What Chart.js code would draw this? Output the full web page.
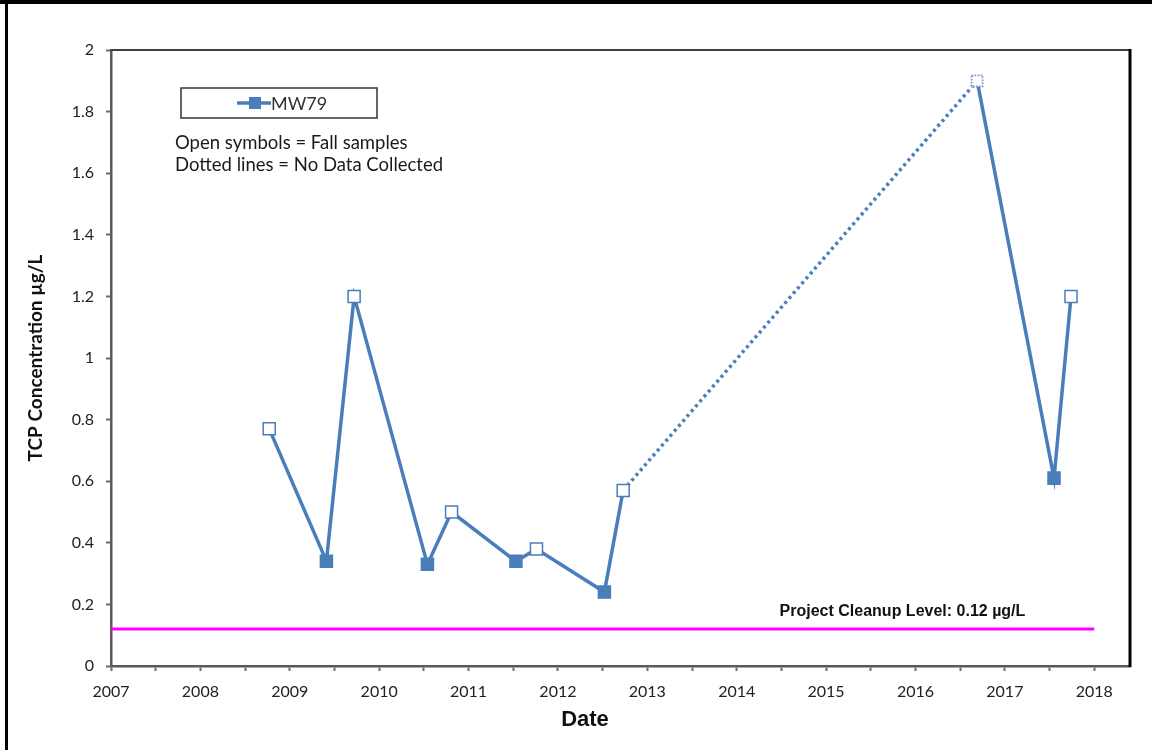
<!DOCTYPE html>
<html>
<head>
<meta charset="utf-8">
<title>MW79 TCP Concentration</title>
<script src="https://cdn.jsdelivr.net/npm/chart.js@4/dist/chart.umd.min.js"></script>
<style>
  html, body { margin: 0; padding: 0; background: #ffffff; }
  #wrap { width: 1152px; height: 750px; position: relative; }
</style>
</head>
<body>
<div id="wrap"><canvas id="chart" width="1152" height="750"></canvas></div>
<script>
// Sampling dates (decimal years) and TCP results for well MW79
const sampleDates = [2008.77, 2009.41, 2009.72, 2010.54, 2010.81, 2011.53, 2011.76, 2012.52, 2012.73, 2016.69, 2017.55, 2017.74];
const mw79Values  = [0.77, 0.34, 1.20, 0.33, 0.50, 0.34, 0.38, 0.24, 0.57, 1.90, 0.61, 1.20];
const sampleSeason = ['Fall', 'Spring', 'Fall', 'Spring', 'Fall', 'Spring', 'Fall', 'Spring', 'Fall', 'Fall', 'Spring', 'Fall'];

// Project cleanup level (µg/L) and the span it is drawn over
const cleanupLevel = 0.12;
const cleanupSpan = [2007, 2018];

// Axis ticks
const yearTicks = [2007, 2008, 2009, 2010, 2011, 2012, 2013, 2014, 2015, 2016, 2017, 2018];
const halfYearTicks = [2007.5, 2008.5, 2009.5, 2010.5, 2011.5, 2012.5, 2013.5, 2014.5, 2015.5, 2016.5, 2017.5];
const concTicks = [0, 0.2, 0.4, 0.6, 0.8, 1, 1.2, 1.4, 1.6, 1.8, 2];

const BLUE = '#4A7EBB';
const MAGENTA = '#FF00FF';
const TEXT_FONT = 'Lato, "Open Sans", sans-serif';

// A gap of more than two years between samples means no data was collected
const isGap = (a, b) => (b - a) > 2;

// Open marker with a dotted outline, used for the first sample after a gap
function dottedMarker() {
  const c = document.createElement('canvas');
  c.width = 14; c.height = 14;
  const g = c.getContext('2d');
  g.fillStyle = '#ffffff';
  g.fillRect(1, 1, 12, 12);
  g.strokeStyle = BLUE;
  g.lineWidth = 1.5;
  g.setLineDash([1.5, 1.5]);
  g.strokeRect(1.5, 1.5, 11, 11);
  return c;
}
const dottedSquare = dottedMarker();

const mw79Points = sampleDates.map((d, i) => ({ x: d, y: mw79Values[i] }));
const cleanupPoints = cleanupSpan.map(d => ({ x: d, y: cleanupLevel }));

const decorations = {
  id: 'decorations',
  beforeDraw(chart) {
    const ctx = chart.ctx;
    ctx.save();
    ctx.fillStyle = '#ffffff';
    ctx.fillRect(0, 0, chart.width, chart.height);
    ctx.restore();
  },
  afterDatasetsDraw(chart) {
    const { ctx, chartArea: a, scales } = chart;
    const xs = scales.x, ys = scales.y;
    ctx.save();

    // plot frame: top and right edges
    ctx.strokeStyle = '#404040';
    ctx.lineWidth = 2;
    ctx.beginPath();
    ctx.moveTo(a.left, a.top);
    ctx.lineTo(a.right, a.top);
    ctx.stroke();
    ctx.strokeStyle = '#000000';
    ctx.lineWidth = 3;
    ctx.beginPath();
    ctx.moveTo(a.right, a.top - 1);
    ctx.lineTo(a.right, a.bottom + 1);
    ctx.stroke();

    // outer picture frame
    ctx.fillStyle = '#000000';
    ctx.fillRect(0, 0, chart.width, 4);
    ctx.fillRect(5, 0, 3, chart.height);

    // cleanup level label
    ctx.fillStyle = '#111111';
    ctx.font = 'bold 16px "Liberation Sans", Arial, sans-serif';
    ctx.textAlign = 'left';
    ctx.textBaseline = 'middle';
    ctx.fillText('Project Cleanup Level: ' + cleanupLevel + ' µg/L', xs.getPixelForValue(2014.48), ys.getPixelForValue(cleanupLevel) - 17);

    // legend box
    const lx = 181, ly = 88, lw = 196, lh = 30;
    ctx.strokeStyle = '#333333';
    ctx.lineWidth = 1.5;
    ctx.strokeRect(lx, ly, lw, lh);
    const cy = ly + lh / 2;
    ctx.strokeStyle = BLUE;
    ctx.lineWidth = 3.5;
    ctx.beginPath();
    ctx.moveTo(237, cy);
    ctx.lineTo(271, cy);
    ctx.stroke();
    ctx.fillStyle = BLUE;
    ctx.fillRect(249, cy - 6, 12, 12);
    ctx.fillStyle = '#333333';
    ctx.font = '18px ' + TEXT_FONT;
    ctx.fillText(chart.data.datasets[0].label, 271, cy + 1);

    // notes
    ctx.fillStyle = '#1a1a1a';
    ctx.font = '18.5px ' + TEXT_FONT;
    ctx.fillText('Open symbols = Fall samples', 175, 143);
    ctx.fillText('Dotted lines = No Data Collected', 175, 165);

    // x axis title
    ctx.fillStyle = '#111111';
    ctx.font = 'bold 22px "Liberation Sans", Arial, sans-serif';
    ctx.textAlign = 'center';
    ctx.fillText('Date', 585, 720);

    ctx.restore();
  }
};

new Chart(document.getElementById('chart'), {
  type: 'scatter',
  data: {
    datasets: [
      {
        label: 'MW79',
        data: mw79Points,
        showLine: true,
        borderColor: BLUE,
        borderWidth: 3.5,
        pointRadius: 8.5,
        pointHoverRadius: 8.5,
        pointStyle: ctx => {
          const i = ctx.dataIndex;
          if (i > 0 && isGap(sampleDates[i - 1], sampleDates[i])) return dottedSquare;
          return 'rect';
        },
        pointBackgroundColor: ctx => sampleSeason[ctx.dataIndex] === 'Fall' ? '#ffffff' : BLUE,
        pointBorderColor: BLUE,
        pointBorderWidth: 1.5,
        segment: {
          borderDash: ctx => isGap(ctx.p0.parsed.x, ctx.p1.parsed.x) ? [3, 3.5] : undefined
        },
        order: 1
      },
      {
        label: 'Project Cleanup Level',
        data: cleanupPoints,
        showLine: true,
        borderColor: MAGENTA,
        borderWidth: 3,
        pointRadius: 0,
        order: 2
      }
    ]
  },
  options: {
    responsive: false,
    animation: false,
    events: [],
    layout: { padding: { left: 22, top: 50, right: 22, bottom: 0 } },
    plugins: {
      legend: { display: false },
      tooltip: { enabled: false }
    },
    scales: {
      x: {
        type: 'linear',
        min: 2007,
        max: 2018.4,
        afterBuildTicks: scale => {
          scale.ticks = yearTicks.concat(halfYearTicks).sort((a, b) => a - b).map(v => ({ value: v }));
        },
        afterFit: scale => { scale.height = 84; },
        ticks: {
          autoSkip: false,
          maxRotation: 0,
          padding: 11,
          color: '#222222',
          font: { family: TEXT_FONT, size: 16 },
          callback: v => yearTicks.includes(v) ? String(v) : ''
        },
        grid: {
          drawOnChartArea: false,
          tickLength: 5,
          tickColor: '#6b6b6b',
          tickWidth: 2
        },
        border: { display: true, color: '#595959', width: 2.5 }
      },
      y: {
        type: 'linear',
        min: 0,
        max: 2,
        afterBuildTicks: scale => {
          scale.ticks = concTicks.map(v => ({ value: v }));
        },
        afterFit: scale => { scale.width = 89; },
        ticks: {
          padding: 12,
          color: '#222222',
          font: { family: TEXT_FONT, size: 16 },
          callback: v => String(Math.round(v * 10) / 10)
        },
        grid: {
          drawOnChartArea: false,
          tickLength: 5,
          tickColor: '#6b6b6b',
          tickWidth: 2
        },
        border: { display: true, color: '#595959', width: 2.5 },
        title: {
          display: true,
          text: 'TCP Concentration µg/L',
          color: '#111111',
          font: { family: TEXT_FONT, size: 19, weight: 'bold' },
          padding: { top: 2, bottom: 0 }
        }
      }
    }
  },
  plugins: [decorations]
});
</script>
</body>
</html>
